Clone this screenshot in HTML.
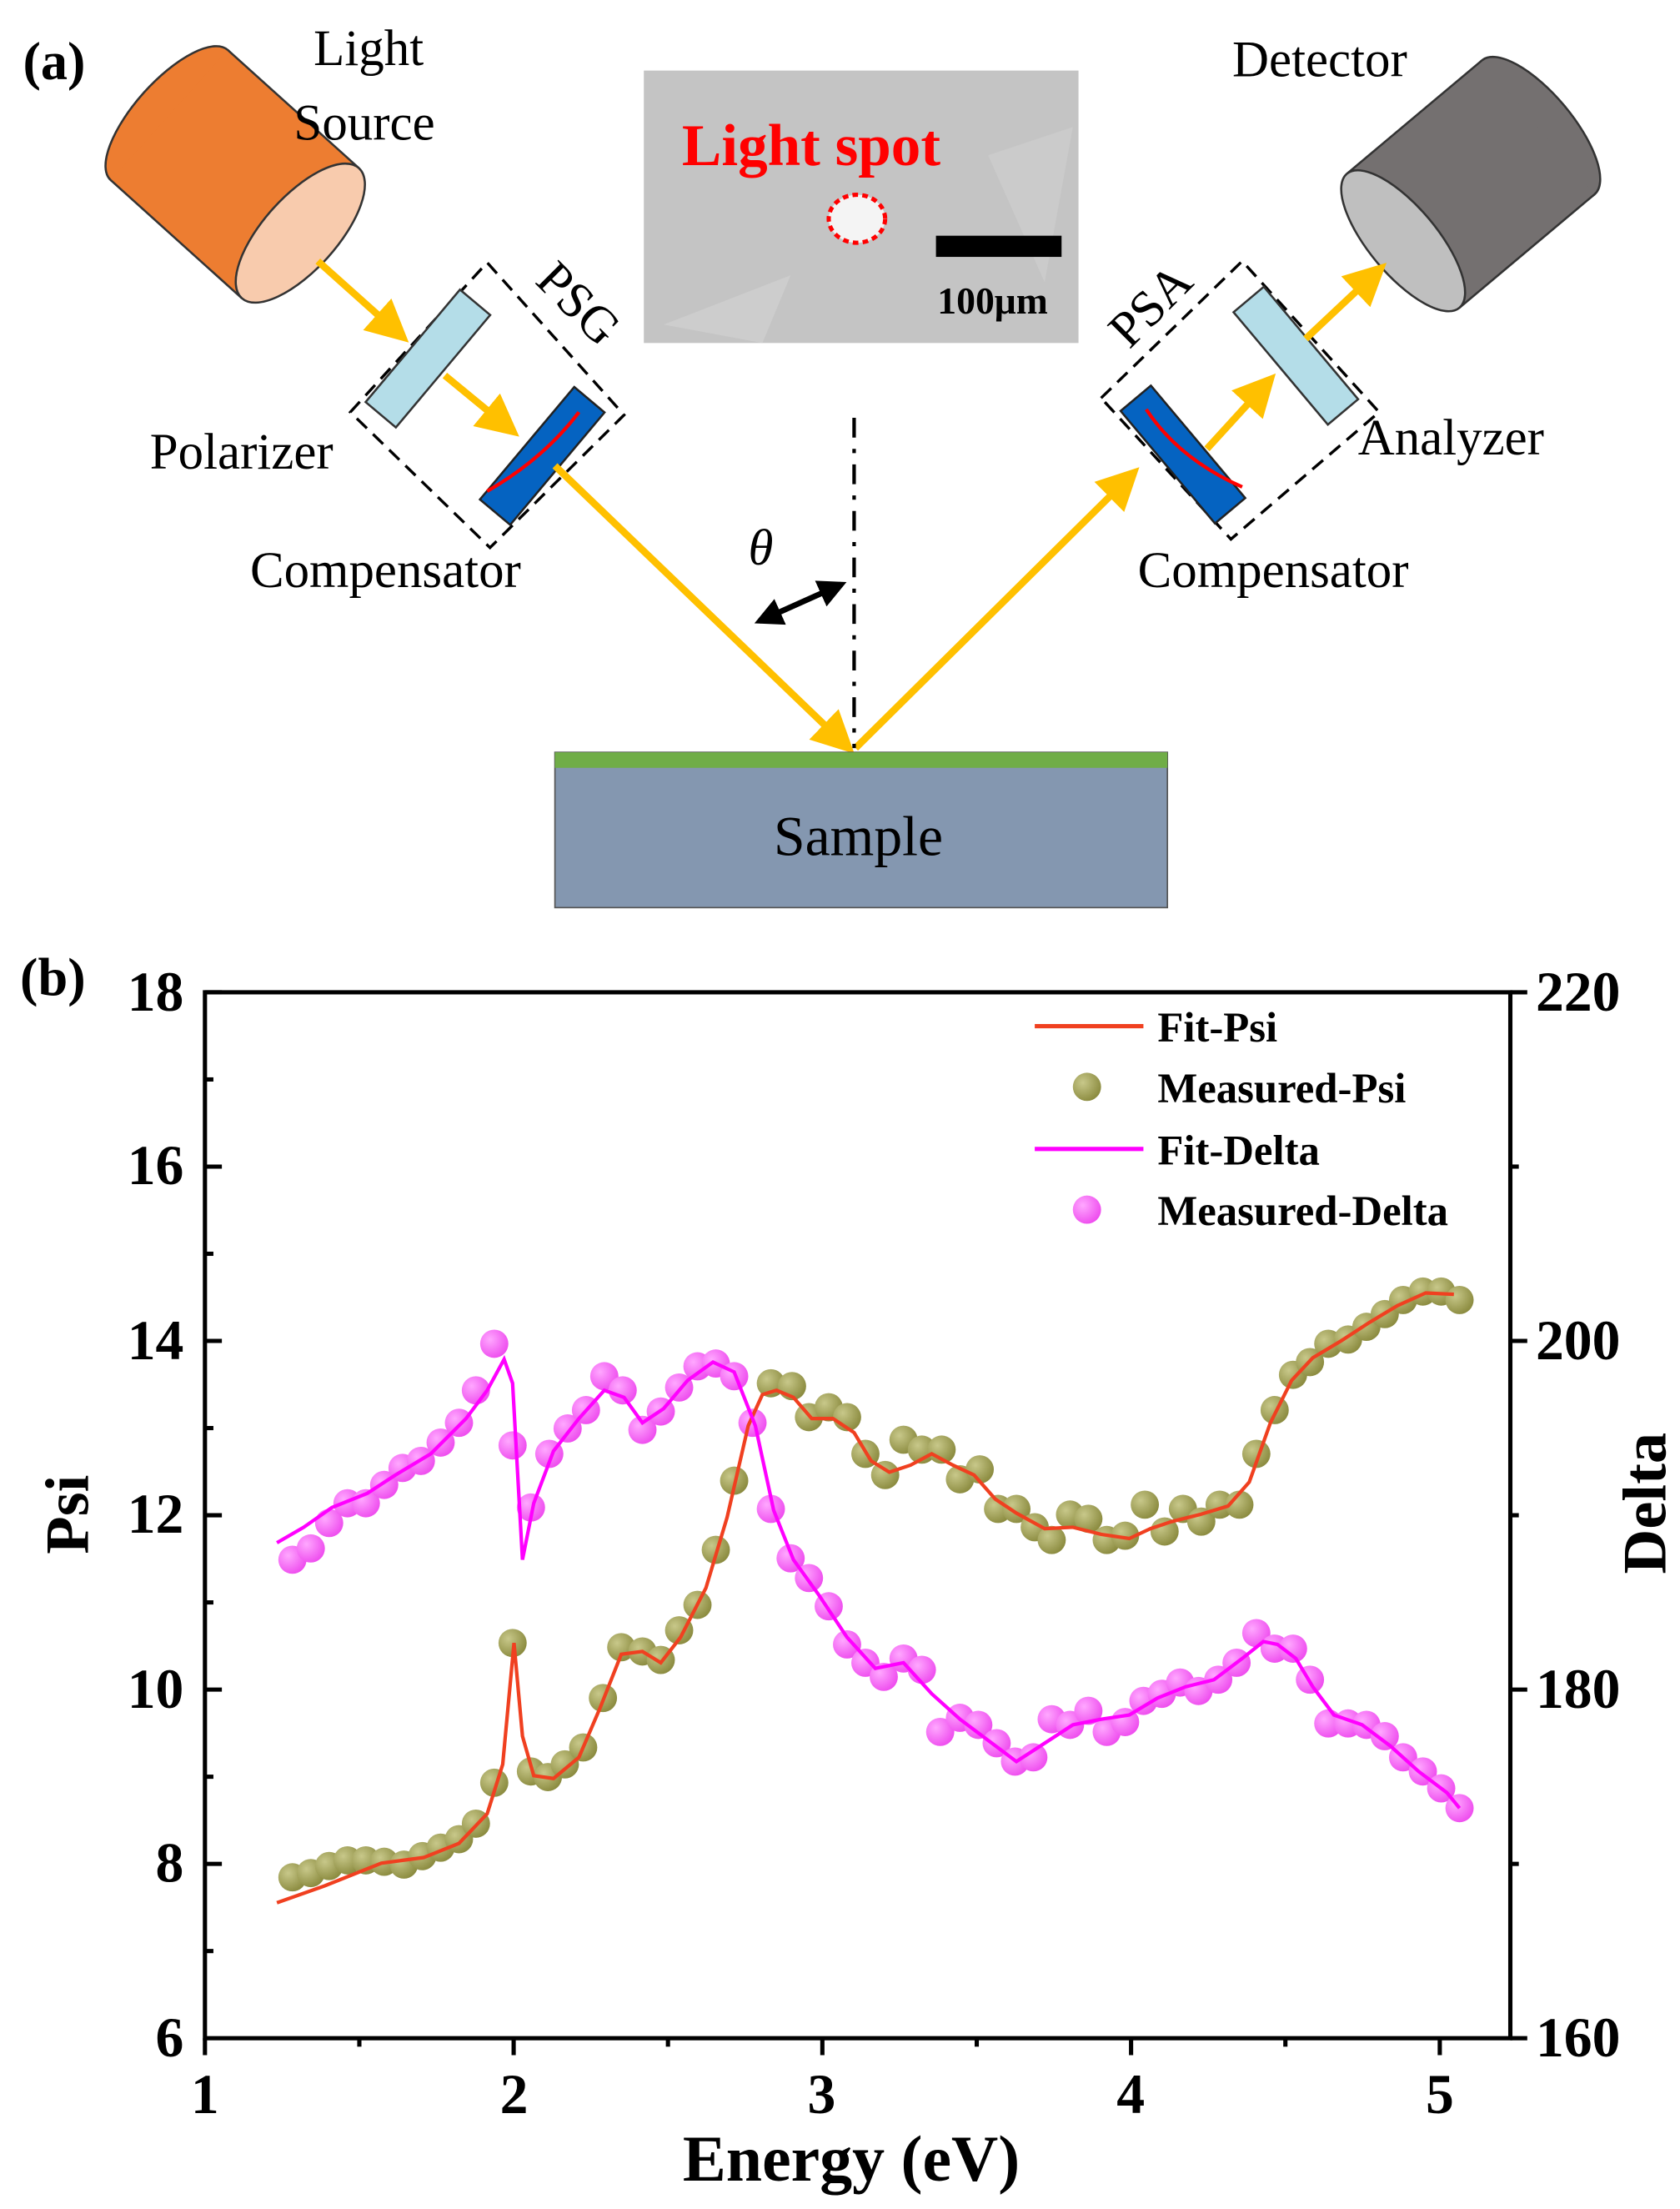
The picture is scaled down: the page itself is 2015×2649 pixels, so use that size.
<!DOCTYPE html>
<html><head><meta charset="utf-8"><style>
html,body{margin:0;padding:0;background:#fff;}
svg{display:block;}
text{font-family:"Liberation Serif",serif;}
</style></head><body>
<svg width="2015" height="2649" viewBox="0 0 1190 1565" xmlns="http://www.w3.org/2000/svg">
<defs>
<radialGradient id="go" cx="0.35" cy="0.35" r="0.7"><stop offset="0" stop-color="#c8c88a"/><stop offset="1" stop-color="#8a8a3e"/></radialGradient>
<radialGradient id="gm" cx="0.35" cy="0.35" r="0.7"><stop offset="0" stop-color="#ffa8ff"/><stop offset="1" stop-color="#ee4cee"/></radialGradient>
<marker id="ay" markerWidth="6" markerHeight="6" refX="4" refY="3" orient="auto" markerUnits="strokeWidth"><path d="M0,0 L6,3 L0,6 z" fill="#ffc000"/></marker>
<marker id="ab" markerWidth="5" markerHeight="5" refX="4" refY="2.5" orient="auto-start-reverse" markerUnits="strokeWidth"><path d="M0,0 L5,2.5 L0,5 z" fill="#000"/></marker>
</defs>
<!-- (a) -->
<text x="16" y="56" font-size="38" font-weight="bold">(a)</text>
<!-- light source cylinder -->
<g transform="rotate(42 168 125)">
<ellipse cx="103" cy="125" rx="24" ry="62" fill="#ed7d31" stroke="#333" stroke-width="1.5"/>
<rect x="103" y="63" width="125" height="124" fill="#ed7d31"/>
<line x1="103" y1="63" x2="228" y2="63" stroke="#333" stroke-width="1.5"/>
<line x1="103" y1="187" x2="228" y2="187" stroke="#333" stroke-width="1.5"/>
<ellipse cx="228" cy="125" rx="26" ry="62" fill="#f8cbad" stroke="#333" stroke-width="1.5"/>
</g>
<text x="222" y="46" font-size="36">Light</text>
<text x="208" y="99" font-size="36">Source</text>
<text x="873" y="54" font-size="36">Detector</text>
<!-- detector cylinder -->
<g transform="rotate(-40 1040 132)">
<ellipse cx="1105" cy="132" rx="24" ry="62" fill="#747070" stroke="#333" stroke-width="1.5"/>
<rect x="980" y="70" width="125" height="124" fill="#747070"/>
<line x1="980" y1="70" x2="1105" y2="70" stroke="#333" stroke-width="1.5"/>
<line x1="980" y1="194" x2="1105" y2="194" stroke="#333" stroke-width="1.5"/>
<ellipse cx="980" cy="132" rx="24" ry="62" fill="#bfbfbf" stroke="#333" stroke-width="1.5"/>
</g>
<!-- image -->
<rect x="456" y="50" width="308" height="193" fill="#c4c4c4"/>
<polygon points="470,230 560,195 540,243" fill="#cdcdcd"/>
<polygon points="700,110 760,90 740,200" fill="#cbcbcb"/>
<text x="483" y="117" font-size="42" font-weight="bold" fill="#ff0000">Light spot</text>
<ellipse cx="607" cy="155" rx="20" ry="17" fill="#f4f4f4" stroke="#ff0000" stroke-width="3" stroke-dasharray="4,3"/>
<rect x="663" y="167" width="89" height="15" fill="#000"/>
<text x="664" y="222" font-size="27" font-weight="bold">100μm</text>
<!-- dashed boxes -->
<polygon points="248,292 345,186 442,294 347,388" fill="none" stroke="#000" stroke-width="2" stroke-dasharray="10,6"/>
<polygon points="780,282 880,185 977,292 872,382" fill="none" stroke="#000" stroke-width="2" stroke-dasharray="10,6"/>
<text x="0" y="0" font-size="36" transform="translate(378,200) rotate(45)">PSG</text>
<text x="0" y="0" font-size="36" transform="translate(800,248) rotate(-45)">PSA</text>
<!-- plates -->
<rect x="-52" y="-14" width="104" height="28" fill="#b4dde8" stroke="#333" stroke-width="1.5" transform="translate(303,254) rotate(-50)"/>
<rect x="-52" y="-14" width="104" height="28" fill="#0563c1" stroke="#222" stroke-width="1.5" transform="translate(384,323) rotate(-50)"/>
<rect x="-52" y="-14" width="104" height="28" fill="#b4dde8" stroke="#333" stroke-width="1.5" transform="translate(918,252) rotate(50)"/>
<rect x="-52" y="-14" width="104" height="28" fill="#0563c1" stroke="#222" stroke-width="1.5" transform="translate(838,322) rotate(50)"/>
<path d="M410,292 Q385,325 345,348" fill="none" stroke="#ff0000" stroke-width="2.5"/>
<path d="M812,290 Q835,325 880,345" fill="none" stroke="#ff0000" stroke-width="2.5"/>
<text x="106" y="332" font-size="36">Polarizer</text>
<text x="177" y="416" font-size="36">Compensator</text>
<text x="806" y="416" font-size="36">Compensator</text>
<text x="962" y="322" font-size="36">Analyzer</text>
<!-- rays -->
<line x1="225" y1="185" x2="282" y2="236" stroke="#ffc000" stroke-width="5" marker-end="url(#ay)"/>
<line x1="315" y1="266" x2="360" y2="303" stroke="#ffc000" stroke-width="5" marker-end="url(#ay)"/>
<line x1="393" y1="330" x2="598" y2="527" stroke="#ffc000" stroke-width="5" marker-end="url(#ay)"/>
<line x1="606" y1="530" x2="800" y2="338" stroke="#ffc000" stroke-width="5" marker-end="url(#ay)"/>
<line x1="855" y1="318" x2="897" y2="272" stroke="#ffc000" stroke-width="5" marker-end="url(#ay)"/>
<line x1="925" y1="240" x2="975" y2="193" stroke="#ffc000" stroke-width="5" marker-end="url(#ay)"/>
<line x1="605" y1="296" x2="605" y2="530" stroke="#000" stroke-width="2.5" stroke-dasharray="14,8,3,8"/>
<line x1="538" y1="440" x2="596" y2="414" stroke="#000" stroke-width="4" marker-start="url(#ab)" marker-end="url(#ab)"/>
<text x="530" y="400" font-size="36" font-style="italic">θ</text>
<!-- sample -->
<rect x="393" y="533" width="434" height="110" fill="#8497b0" stroke="#555" stroke-width="1"/>
<rect x="393" y="533" width="434" height="11" fill="#70ad47"/>
<text x="608" y="606" font-size="40" text-anchor="middle">Sample</text>
<!-- (b) -->
<text x="14" y="705" font-size="38" font-weight="bold">(b)</text>
<rect x="145" y="703" width="925" height="741" fill="none" stroke="#000" stroke-width="3"/>
<g stroke="#000" stroke-width="3">
<line x1="145" y1="703" x2="157" y2="703"/><line x1="145" y1="826.5" x2="157" y2="826.5"/><line x1="145" y1="950" x2="157" y2="950"/><line x1="145" y1="1073.5" x2="157" y2="1073.5"/><line x1="145" y1="1197" x2="157" y2="1197"/><line x1="145" y1="1320.5" x2="157" y2="1320.5"/>
<line x1="145" y1="764.75" x2="151" y2="764.75"/><line x1="145" y1="888.25" x2="151" y2="888.25"/><line x1="145" y1="1011.75" x2="151" y2="1011.75"/><line x1="145" y1="1135.25" x2="151" y2="1135.25"/><line x1="145" y1="1258.75" x2="151" y2="1258.75"/><line x1="145" y1="1382.25" x2="151" y2="1382.25"/>
<line x1="1070" y1="703" x2="1082" y2="703"/><line x1="1070" y1="950" x2="1082" y2="950"/><line x1="1070" y1="1197" x2="1082" y2="1197"/><line x1="1070" y1="1444" x2="1082" y2="1444"/>
<line x1="1070" y1="826.5" x2="1076" y2="826.5"/><line x1="1070" y1="1073.5" x2="1076" y2="1073.5"/><line x1="1070" y1="1320.5" x2="1076" y2="1320.5"/>
<line x1="145" y1="1444" x2="145" y2="1456"/><line x1="363.75" y1="1444" x2="363.75" y2="1456"/><line x1="582.5" y1="1444" x2="582.5" y2="1456"/><line x1="801.25" y1="1444" x2="801.25" y2="1456"/><line x1="1020" y1="1444" x2="1020" y2="1456"/>
<line x1="254.4" y1="1444" x2="254.4" y2="1450"/><line x1="473.1" y1="1444" x2="473.1" y2="1450"/><line x1="691.9" y1="1444" x2="691.9" y2="1450"/><line x1="910.6" y1="1444" x2="910.6" y2="1450"/>
</g>
<g font-size="40" font-weight="bold" text-anchor="end">
<text x="130" y="716">18</text><text x="130" y="839">16</text><text x="130" y="963">14</text><text x="130" y="1086">12</text><text x="130" y="1210">10</text><text x="130" y="1333">8</text><text x="130" y="1457">6</text>
</g>
<g font-size="40" font-weight="bold">
<text x="1088" y="716">220</text><text x="1088" y="963">200</text><text x="1088" y="1210">180</text><text x="1088" y="1457">160</text>
</g>
<g font-size="40" font-weight="bold" text-anchor="middle">
<text x="145" y="1497">1</text><text x="364" y="1497">2</text><text x="582" y="1497">3</text><text x="801" y="1497">4</text><text x="1020" y="1497">5</text>
</g>
<text x="603" y="1545" font-size="46" font-weight="bold" text-anchor="middle">Energy (eV)</text>
<text transform="translate(62,1073) rotate(-90)" font-size="44" font-weight="bold" text-anchor="middle">Psi</text>
<text transform="translate(1180,1065) rotate(-90)" font-size="44" font-weight="bold" text-anchor="middle">Delta</text>
<!-- legend -->
<line x1="733" y1="727" x2="810" y2="727" stroke="#f04020" stroke-width="3"/>
<circle cx="770" cy="770" r="10" fill="url(#go)"/>
<line x1="733" y1="814" x2="810" y2="814" stroke="#ff00ff" stroke-width="3"/>
<circle cx="770" cy="857" r="10" fill="url(#gm)"/>
<g font-size="30" font-weight="bold">
<text x="820" y="738">Fit-Psi</text><text x="820" y="781">Measured-Psi</text><text x="820" y="825">Fit-Delta</text><text x="820" y="868">Measured-Delta</text>
</g>
<!-- Psi points -->
<g fill="url(#go)">
<circle cx="207" cy="1330" r="10"/><circle cx="220" cy="1327" r="10"/><circle cx="233" cy="1322" r="10"/><circle cx="246" cy="1318" r="10"/><circle cx="259" cy="1318" r="10"/><circle cx="272" cy="1319" r="10"/><circle cx="286" cy="1321" r="10"/><circle cx="299" cy="1315" r="10"/><circle cx="312" cy="1309" r="10"/><circle cx="325" cy="1303" r="10"/><circle cx="337" cy="1292" r="10"/><circle cx="350" cy="1263" r="10"/><circle cx="363" cy="1164" r="10"/><circle cx="376" cy="1255" r="10"/><circle cx="388" cy="1259" r="10"/><circle cx="400" cy="1250" r="10"/><circle cx="413" cy="1238" r="10"/><circle cx="427" cy="1203" r="10"/><circle cx="440" cy="1167" r="10"/><circle cx="455" cy="1170" r="10"/><circle cx="468" cy="1176" r="10"/><circle cx="481" cy="1155" r="10"/><circle cx="494" cy="1137" r="10"/><circle cx="507" cy="1098" r="10"/><circle cx="520" cy="1049" r="10"/><circle cx="546" cy="980" r="10"/><circle cx="561" cy="982" r="10"/><circle cx="573" cy="1004" r="10"/><circle cx="587" cy="997" r="10"/><circle cx="600" cy="1004" r="10"/><circle cx="613" cy="1030" r="10"/><circle cx="627" cy="1045" r="10"/><circle cx="640" cy="1020" r="10"/><circle cx="653" cy="1027" r="10"/><circle cx="667" cy="1027" r="10"/><circle cx="680" cy="1048" r="10"/><circle cx="694" cy="1041" r="10"/><circle cx="707" cy="1069" r="10"/><circle cx="720" cy="1069" r="10"/><circle cx="733" cy="1082" r="10"/><circle cx="745" cy="1091" r="10"/><circle cx="758" cy="1073" r="10"/><circle cx="771" cy="1076" r="10"/><circle cx="784" cy="1091" r="10"/><circle cx="797" cy="1088" r="10"/><circle cx="811" cy="1066" r="10"/><circle cx="825" cy="1085" r="10"/><circle cx="838" cy="1069" r="10"/><circle cx="851" cy="1078" r="10"/><circle cx="864" cy="1066" r="10"/><circle cx="878" cy="1066" r="10"/><circle cx="890" cy="1030" r="10"/><circle cx="903" cy="999" r="10"/><circle cx="916" cy="974" r="10"/><circle cx="928" cy="965" r="10"/><circle cx="941" cy="952" r="10"/><circle cx="955" cy="949" r="10"/><circle cx="968" cy="940" r="10"/><circle cx="981" cy="931" r="10"/><circle cx="994" cy="921" r="10"/><circle cx="1008" cy="915" r="10"/><circle cx="1021" cy="915" r="10"/><circle cx="1034" cy="921" r="10"/>
</g>
<!-- Delta points -->
<g fill="url(#gm)">
<circle cx="207" cy="1105" r="10"/><circle cx="220" cy="1097" r="10"/><circle cx="233" cy="1079" r="10"/><circle cx="246" cy="1065" r="10"/><circle cx="259" cy="1065" r="10"/><circle cx="272" cy="1052" r="10"/><circle cx="285" cy="1040" r="10"/><circle cx="298" cy="1035" r="10"/><circle cx="312" cy="1022" r="10"/><circle cx="325" cy="1008" r="10"/><circle cx="337" cy="985" r="10"/><circle cx="350" cy="952" r="10"/><circle cx="363" cy="1024" r="10"/><circle cx="376" cy="1068" r="10"/><circle cx="389" cy="1030" r="10"/><circle cx="402" cy="1012" r="10"/><circle cx="415" cy="999" r="10"/><circle cx="428" cy="975" r="10"/><circle cx="441" cy="985" r="10"/><circle cx="455" cy="1013" r="10"/><circle cx="468" cy="1000" r="10"/><circle cx="481" cy="983" r="10"/><circle cx="494" cy="968" r="10"/><circle cx="507" cy="966" r="10"/><circle cx="520" cy="975" r="10"/><circle cx="533" cy="1008" r="10"/><circle cx="546" cy="1069" r="10"/><circle cx="560" cy="1104" r="10"/><circle cx="573" cy="1118" r="10"/><circle cx="587" cy="1138" r="10"/><circle cx="600" cy="1165" r="10"/><circle cx="613" cy="1178" r="10"/><circle cx="626" cy="1188" r="10"/><circle cx="640" cy="1175" r="10"/><circle cx="653" cy="1183" r="10"/><circle cx="666" cy="1227" r="10"/><circle cx="680" cy="1217" r="10"/><circle cx="693" cy="1222" r="10"/><circle cx="706" cy="1235" r="10"/><circle cx="719" cy="1248" r="10"/><circle cx="732" cy="1245" r="10"/><circle cx="745" cy="1218" r="10"/><circle cx="758" cy="1222" r="10"/><circle cx="771" cy="1212" r="10"/><circle cx="784" cy="1227" r="10"/><circle cx="797" cy="1220" r="10"/><circle cx="810" cy="1205" r="10"/><circle cx="823" cy="1200" r="10"/><circle cx="836" cy="1192" r="10"/><circle cx="849" cy="1198" r="10"/><circle cx="863" cy="1190" r="10"/><circle cx="876" cy="1178" r="10"/><circle cx="890" cy="1157" r="10"/><circle cx="903" cy="1168" r="10"/><circle cx="916" cy="1168" r="10"/><circle cx="928" cy="1190" r="10"/><circle cx="941" cy="1221" r="10"/><circle cx="955" cy="1221" r="10"/><circle cx="968" cy="1222" r="10"/><circle cx="981" cy="1230" r="10"/><circle cx="994" cy="1245" r="10"/><circle cx="1008" cy="1255" r="10"/><circle cx="1021" cy="1267" r="10"/><circle cx="1034" cy="1281" r="10"/>
</g>
<!-- fits -->
<polyline fill="none" stroke="#f04020" stroke-width="2.5" points="196,1348 230,1336 270,1320 300,1316 325,1306 345,1285 356,1250 364,1164 370,1230 378,1258 392,1260 410,1245 425,1210 440,1172 455,1170 468,1178 482,1160 500,1125 515,1075 530,1010 540,988 550,985 562,990 575,1005 590,1005 605,1015 617,1035 630,1043 645,1038 660,1030 675,1038 690,1045 705,1062 720,1072 740,1083 760,1082 780,1087 800,1090 815,1083 830,1078 850,1073 870,1067 885,1050 900,1008 915,978 930,962 950,950 970,937 990,925 1010,916 1030,917"/>
<polyline fill="none" stroke="#ff00ff" stroke-width="2.5" points="196,1093 215,1082 235,1068 260,1058 280,1045 305,1030 330,1005 345,985 357,963 363,980 370,1105 378,1065 392,1028 410,1005 428,985 442,990 455,1008 470,998 487,978 505,965 520,972 535,1010 548,1070 562,1105 580,1130 600,1160 620,1182 640,1178 660,1200 680,1218 700,1233 720,1248 740,1235 760,1222 780,1218 800,1215 820,1203 840,1195 860,1190 880,1175 895,1163 905,1165 918,1175 930,1195 945,1215 965,1222 985,1237 1005,1255 1025,1270 1034,1281"/>
</svg>
</body></html>
